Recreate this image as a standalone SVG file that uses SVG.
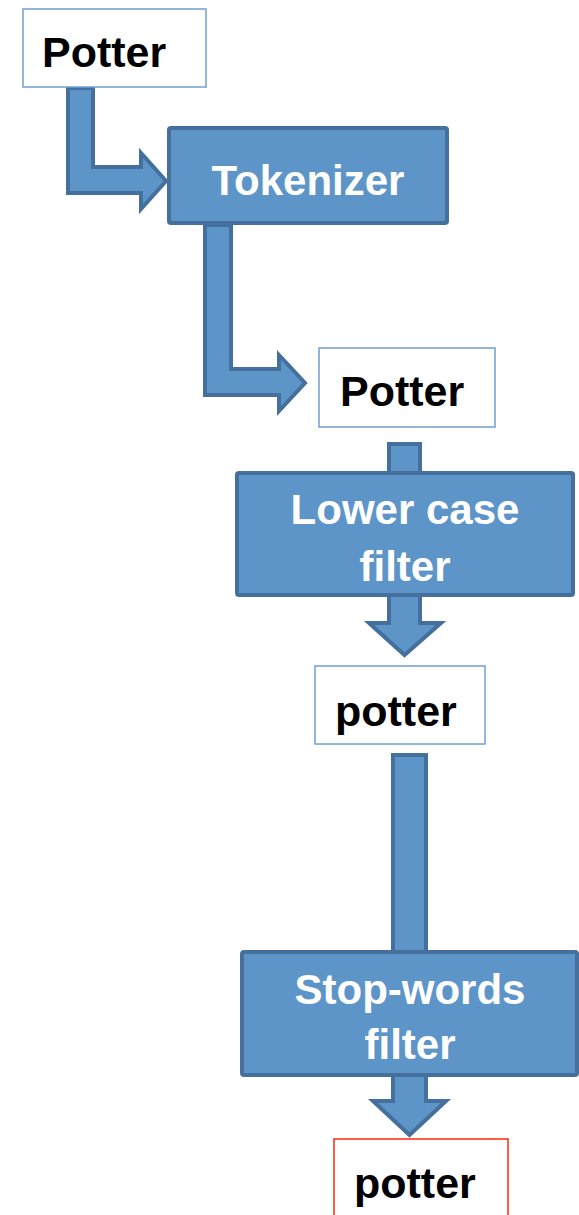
<svg xmlns="http://www.w3.org/2000/svg" width="579" height="1215" viewBox="0 0 579 1215">
  <style>
    .word { fill: #ffffff; stroke: #6f9fd4; stroke-width: 1.5; }
    .final { fill: #ffffff; stroke: #ff2a0a; stroke-width: 1.5; }
    .stage { fill: #5e95c9; stroke: #45709e; stroke-width: 4; }
    .flow { fill: #5e95c9; stroke: #45709e; stroke-width: 4; stroke-linejoin: miter; }
    .dark { font-family: "Liberation Sans", Arial, sans-serif; font-weight: bold; font-size: 43px; fill: #000000; }
    .light { font-family: "Liberation Sans", Arial, sans-serif; font-weight: bold; font-size: 42px; fill: #ffffff; text-anchor: middle; }
  </style>

  <!-- block arrows between the steps -->
  <g id="connectors">
    <path class="flow" d="M68,88 L93,88 L93,167 L141,167 L141,153 L166,181 L141,209 L141,193 L68,193 Z"/>
    <path class="flow" d="M205,225 L231,225 L231,369 L279,369 L279,355 L305,383 L279,411 L279,395 L205,395 Z"/>
    <path class="flow" d="M389,444 L420,444 L420,623 L441,623 L404.5,655 L369,623 L389,623 Z"/>
    <path class="flow" d="M393,755 L426,755 L426,1101 L446,1101 L409.5,1135 L373,1101 L393,1101 Z"/>
  </g>

  <g id="input-token">
    <rect class="word" x="23" y="9" width="183" height="78"/>
    <text class="dark" x="42" y="67">Potter</text>
  </g>

  <g id="tokenizer">
    <rect class="stage" x="169" y="128" width="278" height="95" rx="2"/>
    <text class="light" x="308" y="195">Tokenizer</text>
  </g>

  <g id="token">
    <rect class="word" x="319" y="348" width="176" height="79"/>
    <text class="dark" x="340" y="406">Potter</text>
  </g>

  <g id="lower-case-filter">
    <rect class="stage" x="237" y="473" width="336" height="122" rx="2"/>
    <text class="light" x="405" y="524">Lower case</text>
    <text class="light" x="405" y="581">filter</text>
  </g>

  <g id="lowered-token">
    <rect class="word" x="315" y="666" width="170" height="78"/>
    <text class="dark" x="335" y="726">potter</text>
  </g>

  <g id="stop-words-filter">
    <rect class="stage" x="242" y="952" width="335" height="123" rx="2"/>
    <text class="light" x="410" y="1004">Stop-words</text>
    <text class="light" x="410" y="1059">filter</text>
  </g>

  <g id="output-token">
    <rect class="final" x="334" y="1139" width="174" height="90"/>
    <text class="dark" x="354" y="1198">potter</text>
  </g>
</svg>
